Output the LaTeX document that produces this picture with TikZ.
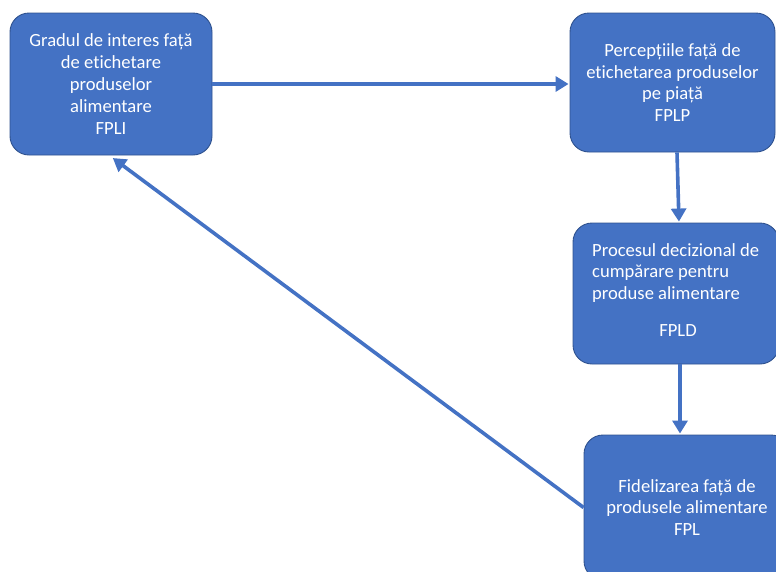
\documentclass[tikz,border=0pt]{standalone}
\usepackage{fontspec}
\setmainfont[Ligatures=NoCommon]{Carlito}
\usetikzlibrary{arrows.meta}
\definecolor{boxfill}{HTML}{4472C4}
\definecolor{boxline}{HTML}{2F528F}
\begin{document}
\begin{tikzpicture}[x=1pt,y=-1pt,
  lbl/.style={text=white, font=\fontsize{18.6}{21.8}\selectfont, inner sep=0pt},
  box/.style={lbl, draw=boxline, line width=0.9pt, fill=boxfill, rounded corners=19pt},
  link/.style={draw=boxfill, line width=3.6pt,
    -{Triangle[length=13pt,width=15pt]}, shorten >=1pt}]
  \useasboundingbox (0,0) rectangle (776,571);
  \clip (0,0) rectangle (776,571);

  \node[box, minimum width=202pt, minimum height=142pt, align=center] (fpli) at (111,84)
    {Gradul de interes față\\de etichetare\\produselor\\alimentare\\FPLI};
  \node[box, minimum width=205pt, minimum height=139pt, align=center] (fplp) at (672.5,82.5)
    {Percepțiile față de\\etichetarea produselor\\pe piață\\FPLP};
  \node[box, minimum width=206pt, minimum height=141pt] (fpld) at (676,293.5) {};
  \node[lbl, align=left, anchor=north west] (fpldtxt) at (592,243)
    {Procesul decizional de\\cumpărare pentru\\produse alimentare};
  \node[lbl] (fpldcode) at (678,331) {FPLD};
  \node[box, minimum width=206pt, minimum height=145pt, align=center] (fpl) at (687,507.5)
    {Fidelizarea față de\\produsele alimentare\\FPL};

  \draw[link] (fpli.east) -- (fpli.east -| fplp.west);
  \draw[link] ([xshift=4.5pt]fplp.south) -- ([xshift=3pt]fpld.north);
  \draw[link] ([xshift=4pt]fpld.south) -- ([xshift=4pt]fpld.south |- fpl.north);
  \draw[link] (fpl.west) -- ([xshift=1pt,yshift=-2pt]fpli.south);
\end{tikzpicture}
\end{document}
